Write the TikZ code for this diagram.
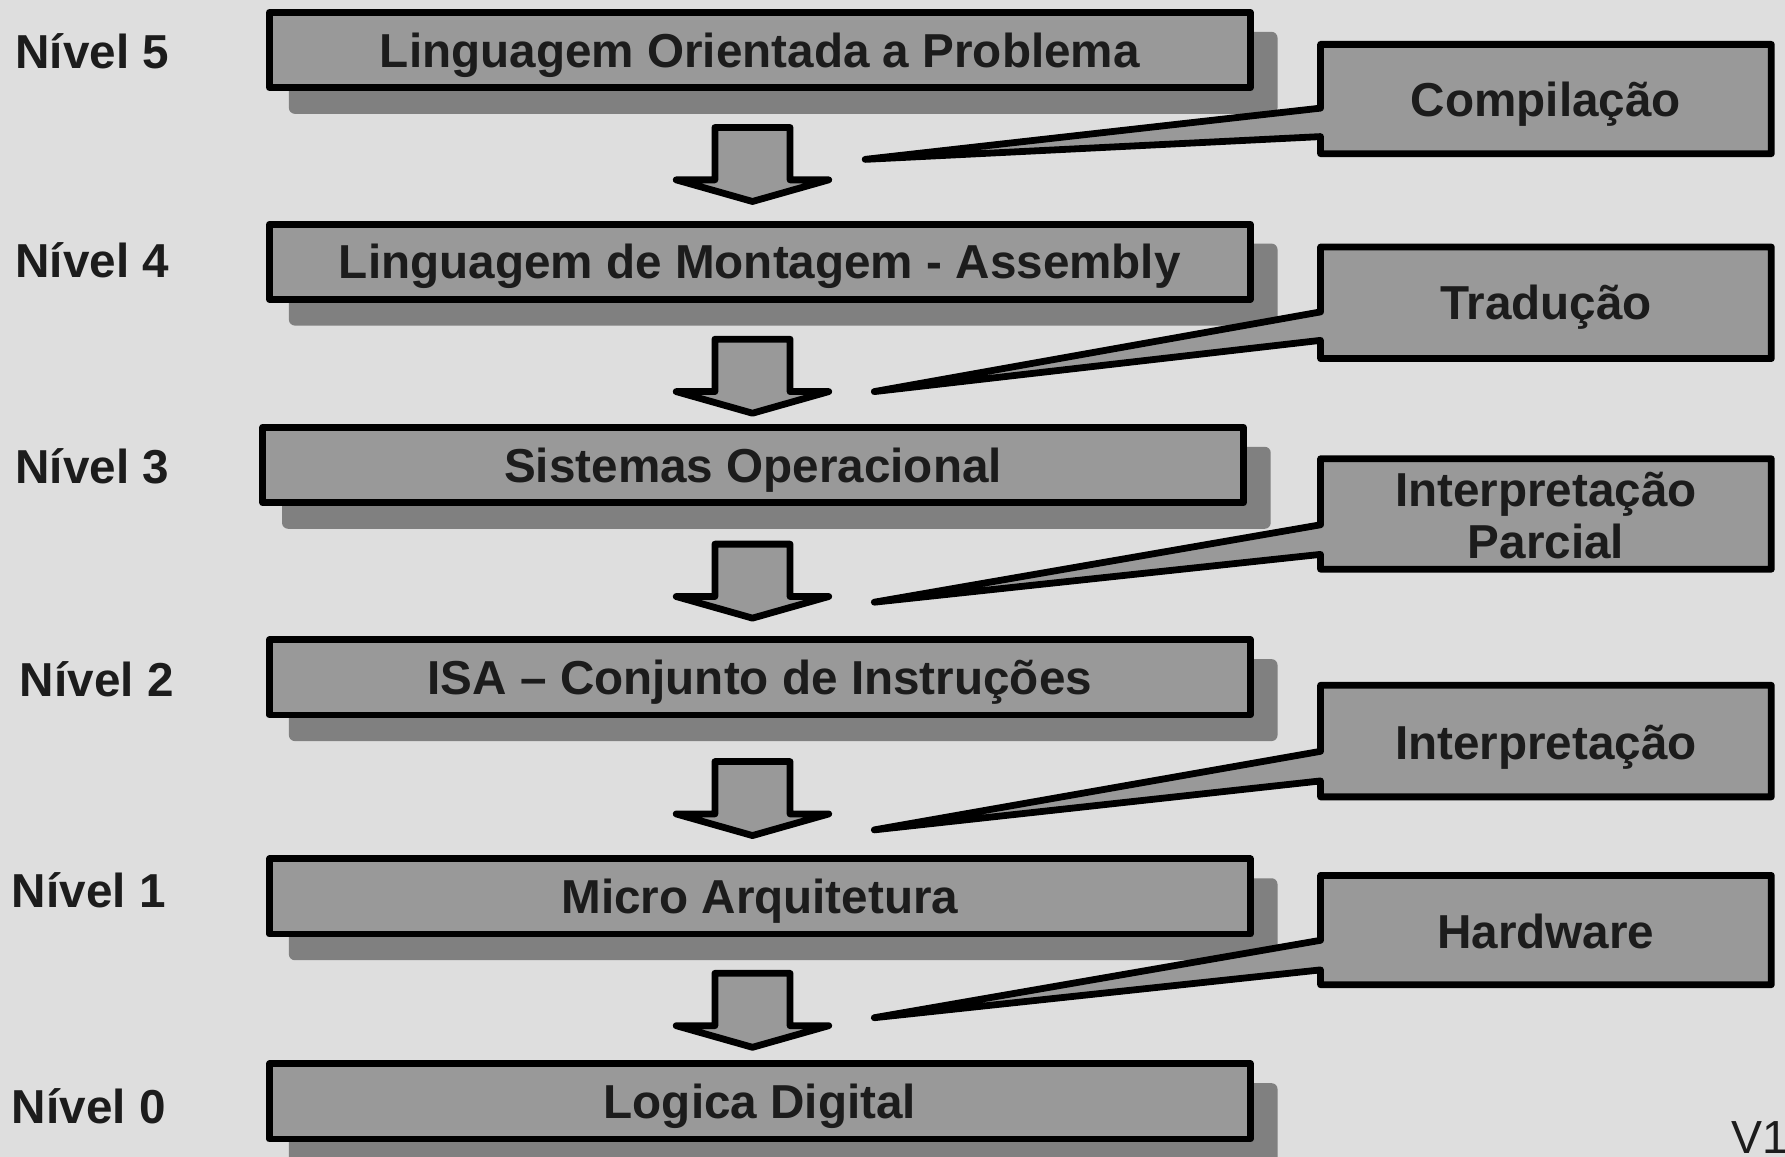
\documentclass[tikz,border=0pt]{standalone}
\usepackage{fontspec}
\setmainfont{Liberation Sans}
\usetikzlibrary{backgrounds}
\definecolor{bgc}{HTML}{DEDEDE}
\definecolor{boxc}{HTML}{999999}
\definecolor{shc}{HTML}{808080}
\definecolor{txc}{HTML}{1C1C1C}
\begin{document}
\begin{tikzpicture}[x=0.01cm,y=-0.01cm,
  lvl/.style={font=\fontsize{11.9pt}{14pt}\selectfont\bfseries, text=txc, inner sep=0pt, text height=8.5pt, text depth=0pt},
  layerbox/.style={draw=black, line width=1.7pt, line join=round, fill=boxc, minimum width=8.61cm, minimum height=0.66cm, inner sep=0pt,
    font=\fontsize{11.9pt}{14pt}\selectfont\bfseries, text=txc, text height=8.5pt, text depth=0pt},
  shadowbox/.style={fill=shc, rounded corners=1.5pt},
  barrow/.style={draw=black, line width=1.7pt, line join=round, fill=boxc},
  cshape/.style={draw=black, line width=1.7pt, line join=round, fill=boxc},
  ctext/.style={font=\fontsize{11.9pt}{13.05pt}\selectfont\bfseries, text=txc, inner sep=0pt, align=center}
]
\useasboundingbox (0,0) rectangle (1568,1016);

% level labels
\node[lvl] (n5) at (81,45) {Nível 5};
\node[lvl] (n4) at (81,229) {Nível 4};
\node[lvl] (n3) at (81,410) {Nível 3};
\node[lvl] (n2) at (85,597) {Nível 2};
\node[lvl] (n1) at (78,782) {Nível 1};
\node[lvl] (n0) at (78,972) {Nível 0};

% layer boxes
\node[layerbox] (b5) at (667.5,44) {Linguagem Orientada a Problema};
\node[layerbox] (b4) at (667.5,230) {Linguagem de Montagem - Assembly};
\node[layerbox] (b3) at (661.5,408.5) {Sistemas Operacional};
\node[layerbox] (b2) at (667.5,595) {ISA – Conjunto de Instruções};
\node[layerbox] (b1) at (667.5,787.5) {Micro Arquitetura};
\node[layerbox] (b0) at (667.5,967.5) {Logica Digital};

\begin{scope}[on background layer]
  \fill[bgc] (0,0) rectangle (1568,1016);
  \foreach \b in {b5,b4,b3,b2,b1,b0}{
    \fill[shadowbox] ([shift={(20,20)}]\b.north west) rectangle ([shift={(21,20)}]\b.south east);
  }
\end{scope}

% block arrows between layers
\foreach \t in {112,298,478,669,855}{
  \draw[barrow] (628,\t) -- (694,\t) -- (694,\t+46) -- (728,\t+46) -- (661,\t+65) -- (594,\t+46) -- (628,\t+46) -- cycle;
}

% callout tips
\coordinate (t1) at (760,140);
\coordinate (t2) at (768,344);
\coordinate (t3) at (768,529);
\coordinate (t4) at (768,729);
\coordinate (t5) at (768,894);

% callouts
\draw[cshape] (1160,39) -- (1556,39) -- (1556,135) -- (1160,135) -- (1160,120) -- (t1) -- (1160,95) -- cycle;
\draw[cshape] (1160,217) -- (1556,217) -- (1556,315) -- (1160,315) -- (1160,299) -- (t2) -- (1160,274) -- cycle;
\draw[cshape] (1160,403) -- (1556,403) -- (1556,500) -- (1160,500) -- (1160,487) -- (t3) -- (1160,461) -- cycle;
\draw[cshape] (1160,602) -- (1556,602) -- (1556,700) -- (1160,700) -- (1160,686) -- (t4) -- (1160,660) -- cycle;
\draw[cshape] (1160,769) -- (1556,769) -- (1556,865) -- (1160,865) -- (1160,852) -- (t5) -- (1160,826) -- cycle;

\node[ctext, text height=8.5pt, text depth=0pt] (c1) at (1358,87) {Compilação};
\node[ctext, text height=8.5pt, text depth=0pt] (c2) at (1358,266) {Tradução};
\node[ctext] (c3) at (1358,453) {Interpretação\\Parcial};
\node[ctext, text height=8.5pt, text depth=0pt] (c4) at (1358,652) {Interpretação};
\node[ctext, text height=8.5pt, text depth=0pt] (c5) at (1358,818) {Hardware};

\node[font=\fontsize{11.6pt}{13pt}\selectfont, text=txc, anchor=west, inner sep=0pt, text height=8.3pt, text depth=0pt] (v1) at (1520,999) {V1};
\end{tikzpicture}
\end{document}
